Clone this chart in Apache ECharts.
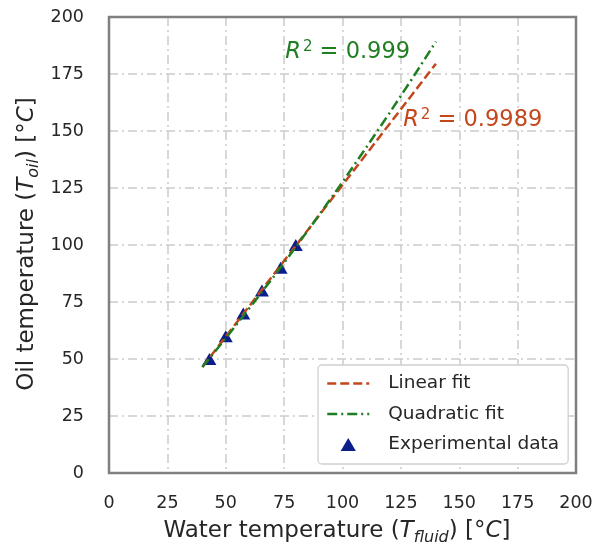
<!DOCTYPE html>
<html><head><meta charset="utf-8">
<script src="https://cdn.jsdelivr.net/npm/echarts@6/dist/echarts.min.js"></script>
<style>html,body{margin:0;padding:0;background:#fff}#c{width:596px;height:553px}</style>
</head><body><div id="c"></div>
<script>
// ---- data ----
const waterTemp = [43, 50, 57.5, 65.5, 73.5, 80];        // experimental x
const oilTemp   = [50, 60, 70, 80, 90, 100];             // experimental y
const linFitX   = [40, 90, 140];
const linFitY   = [46.5, 113.0, 179.5];
const quadFitX  = [40, 50, 60, 70, 80, 90, 100, 110, 120, 130, 140];
const quadFitY  = [46.5, 59.1, 72.1, 85.4, 99.1, 113.2, 127.6, 142.5, 157.7, 173.2, 189.2];
const r2Linear = '0.9989';
const r2Quad   = '0.999';
const xTicks = [0, 25, 50, 75, 100, 125, 150, 175, 200];
const yTicks = [0, 25, 50, 75, 100, 125, 150, 175, 200];

const FONT = 'DejaVu Sans';
const TXT = '#262626';
const RED = '#c4461b';
const GREEN = '#1f7d22';
const NAVY = '#0b1e8c';

const zip = (a, b) => a.map((v, i) => [v, b[i]]);

const chart = echarts.init(document.getElementById('c'), null, {renderer: 'canvas'});
const gridLine = {color: '#cccccc', width: 1.5, type: [9, 4, 2, 4]};
const hiddenSym = {color: 'rgba(0,0,0,0)', borderWidth: 0, opacity: 0};

chart.setOption({
  animation: false,
  backgroundColor: '#fff',
  textStyle: {fontFamily: FONT},
  grid: {left: 109, right: 20, top: 17, bottom: 80},
  xAxis: {type: 'value', min: xTicks[0], max: xTicks[xTicks.length - 1], interval: 25,
    axisLine: {show: false}, axisTick: {show: false},
    axisLabel: {color: TXT, fontSize: 17.5, fontFamily: FONT, margin: 21},
    splitLine: {show: true, lineStyle: gridLine}},
  yAxis: {type: 'value', min: yTicks[0], max: yTicks[yTicks.length - 1], interval: 25,
    axisLine: {show: false}, axisTick: {show: false},
    axisLabel: {color: TXT, fontSize: 17.5, fontFamily: FONT, margin: 25},
    splitLine: {show: true, lineStyle: gridLine}},
  legend: {
    orient: 'vertical', left: 318, top: 365,
    data: [
      {name: 'Linear fit', itemStyle: hiddenSym, lineStyle: {width: 2.5}},
      {name: 'Quadratic fit', itemStyle: hiddenSym, lineStyle: {width: 2.5}},
      {name: 'Experimental data', icon: 'path://M7,0L14,12L0,12Z'}
    ],
    backgroundColor: '#ffffff', borderColor: '#d0d0d0', borderWidth: 1.3, borderRadius: 4,
    padding: [9, 9, 10, 8], itemGap: 11.5, itemWidth: 42, itemHeight: 13,
    textStyle: {color: TXT, fontSize: 18.5, fontFamily: FONT, padding: [0, 0, 0, 14]}
  },
  series: [
    {name: 'Linear fit', type: 'line', data: zip(linFitX, linFitY), symbol: 'none', showSymbol: false, z: 3,
     lineStyle: {color: RED, width: 2.5, type: [9, 4]}, itemStyle: {color: RED}},
    {name: 'Quadratic fit', type: 'line', data: zip(quadFitX, quadFitY), symbol: 'none', showSymbol: false, z: 4,
     lineStyle: {color: GREEN, width: 2.5, type: [10, 4, 2, 4]}, itemStyle: {color: GREEN}},
    {name: 'Experimental data', type: 'scatter', data: zip(waterTemp, oilTemp), z: 2,
     symbol: 'triangle', symbolSize: [14, 12], itemStyle: {color: NAVY, opacity: 1}}
  ]
});

function r2Text(val, color) {
  return {
    text: '{i|R}{s|2}{n| = ' + val + '}',
    rich: {
      i: {fontSize: 22.5, fontStyle: 'italic', fontFamily: FONT, fill: color, lineHeight: 26},
      s: {fontSize: 15, fontFamily: FONT, fill: color, lineHeight: 15, verticalAlign: 'top', padding: [0, 0, 0, 2]},
      n: {fontSize: 22.5, fontFamily: FONT, fill: color, lineHeight: 26}
    }
  };
}
const titleRich = {
  a: {fontSize: 23, fontFamily: FONT, fill: TXT, lineHeight: 30},
  t: {fontSize: 23, fontFamily: FONT, fontStyle: 'italic', fill: TXT, lineHeight: 30},
  s: {fontSize: 16, fontFamily: FONT, fontStyle: 'italic', fill: TXT, lineHeight: 16, verticalAlign: 'bottom'}
};
const pG = chart.convertToPixel({gridIndex: 0}, [75.5, 181.5]);
const pR = chart.convertToPixel({gridIndex: 0}, [126, 151.5]);
const p00 = chart.convertToPixel({gridIndex: 0}, [xTicks[0], yTicks[0]]);
const p11 = chart.convertToPixel({gridIndex: 0}, [xTicks[xTicks.length - 1], yTicks[yTicks.length - 1]]);

chart.setOption({
  graphic: [
    {type: 'rect', z: 50, silent: true,
     shape: {x: p00[0], y: p11[1], width: p11[0] - p00[0], height: p00[1] - p11[1]},
     style: {fill: 'none', stroke: '#808080', lineWidth: 2.5}},
    {type: 'text', left: pG[0], top: pG[1] - 20, z: 10,
     style: Object.assign(r2Text(r2Quad, GREEN), {fill: GREEN})},
    {type: 'text', left: pR[0], top: pR[1] - 20, z: 10,
     style: Object.assign(r2Text(r2Linear, RED), {fill: RED})},
    {type: 'text', x: 337, y: 531, z: 10,
     style: {text: '{a|Water temperature (}{t|T}{s|fluid}{a|) [°}{t|C}{a|]}',
       align: 'center', verticalAlign: 'middle', rich: titleRich}},
    {type: 'text', x: 27, y: 244, rotation: Math.PI / 2, z: 10,
     style: {text: '{a|Oil temperature (}{t|T}{s|oil}{a|) [°}{t|C}{a|]}',
       align: 'center', verticalAlign: 'middle', rich: titleRich}}
  ]
});
</script></body></html>
